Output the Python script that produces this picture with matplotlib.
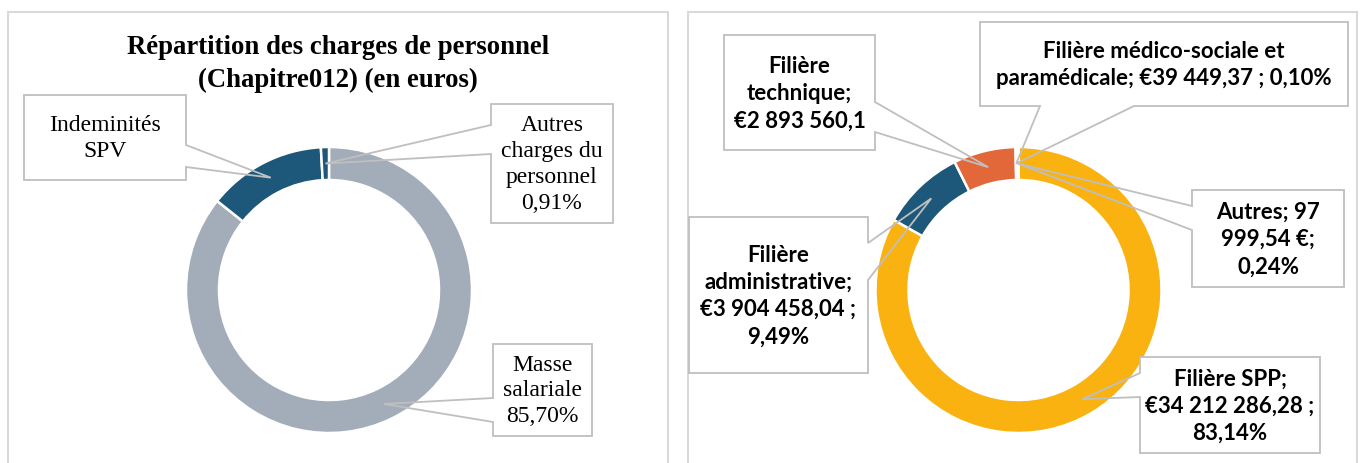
import numpy as np
import matplotlib.pyplot as plt
from matplotlib.patches import Rectangle, Polygon

# left chart data
left_labels = ["Masse\nsalariale\n85,70%", "Indeminités\nSPV", "Autres\ncharges du\npersonnel\n0,91%"]
left_values = [85.70, 13.39, 0.91]
left_colors = ["#A3ACB9", "#1D5779", "#1D5779"]

# right chart data (euros)
right_labels = [
    "Filière SPP;\n€34 212 286,28 ;\n83,14%",
    "Filière\nadministrative;\n€3 904 458,04 ;\n9,49%",
    "Filière\ntechnique;\n€2 893 560,1",
    "Filière médico-sociale et\nparamédicale; €39 449,37 ; 0,10%",
    "Autres; 97\n999,54 €;\n0,24%",
]
right_values = [34212286.28, 3904458.04, 2893560.10, 39449.37, 97999.54]
right_colors = ["#F9B20F", "#1D5779", "#E2683A", "#A5A5A5", "#7F7F7F"]
right_explode = [0, 0.02, 0.02, 0, 0]

W, H = 1360, 463
R, RING = 143, 33
EDGE = "#BFBFBF"


def Y(y):
    return H - y


def anchor(values, i, center):
    frac = np.cumsum(values) / np.sum(values)
    start = frac[i - 1] if i > 0 else 0.0
    mid = (start + frac[i]) / 2 * 2 * np.pi
    r = R - RING / 2
    return center[0] + r * np.sin(mid), center[1] - r * np.cos(mid)


def callout(ax, box, side, base, tip, text, **kw):
    x0, y0, x1, y1 = box
    if side == "left":
        pts = [(x0, y0), (x1, y0), (x1, y1), (x0, y1), (x0, base[1]), tip, (x0, base[0])]
    elif side == "right":
        pts = [(x0, y0), (x1, y0), (x1, base[0]), tip, (x1, base[1]), (x1, y1), (x0, y1)]
    else:
        pts = [(x0, y0), (x1, y0), (x1, y1), (base[1], y1), tip, (base[0], y1), (x0, y1)]
    ax.add_patch(Rectangle((x0, Y(y1)), x1 - x0, y1 - y0, facecolor="white",
                           edgecolor="none", zorder=3))
    ax.add_patch(Polygon([(px, Y(py)) for px, py in pts], closed=True, fill=False,
                         edgecolor=EDGE, lw=1.3, zorder=4))
    ax.text((x0 + x1) / 2, Y((y0 + y1) / 2 + 1), text, ha="center", va="center",
            zorder=5, **kw)


fig = plt.figure(figsize=(W / 100, H / 100), dpi=100)
ax = fig.add_axes([0, 0, 1, 1])

# panel frames
ax.add_patch(Rectangle((8, -5), 660, Y(12) + 5, fill=False, edgecolor="#D9D9D9", lw=1.5))
ax.add_patch(Rectangle((688, -5), 669, Y(12) + 5, fill=False, edgecolor="#D9D9D9", lw=1.5))

lc = (329, 290)
ax.pie(left_values, colors=left_colors, startangle=90, counterclock=False,
       radius=R, center=(lc[0], Y(lc[1])),
       wedgeprops=dict(width=RING, edgecolor="white", linewidth=1.8))

rc = (1018.5, 290)
ax.pie(right_values, colors=right_colors, startangle=90, counterclock=False,
       radius=R, center=(rc[0], Y(rc[1])), explode=right_explode,
       wedgeprops=dict(width=RING, edgecolor="white", linewidth=1.8))

ax.set_xlim(0, W)
ax.set_ylim(0, H)
ax.set_aspect("equal")
ax.axis("off")

ax.text(338, Y(64), "Répartition des charges de personnel\n(Chapitre012) (en euros)",
        ha="center", va="center", fontsize=19.3, fontweight="bold",
        family="Liberation Serif", linespacing=1.4)

serif = dict(fontsize=17, family="Liberation Serif", linespacing=1.3)
callout(ax, (24, 95, 186, 180), "right", (145, 167), anchor(left_values, 1, lc), left_labels[1], **serif)
callout(ax, (491, 104, 613, 223), "left", (125, 154), anchor(left_values, 2, lc), left_labels[2], **serif)
callout(ax, (493, 344, 592, 436), "left", (398, 422), anchor(left_values, 0, lc), left_labels[0], **serif)

sans = dict(fontsize=16, family="Lato", fontweight="bold", linespacing=1.37)
callout(ax, (1140, 357, 1320, 453), "left", (373, 397), anchor(right_values, 0, rc), right_labels[0], **sans)
callout(ax, (689, 217, 868, 373), "right", (243, 280), anchor(right_values, 1, rc), right_labels[1], **sans)
callout(ax, (724, 35, 875, 150), "right", (102, 132), anchor(right_values, 2, rc), right_labels[2], **sans)
callout(ax, (980, 22, 1348, 106), "bottom", (1040, 1134), anchor(right_values, 3, rc), right_labels[3], **sans)
callout(ax, (1192, 190, 1344, 287), "left", (206, 230), anchor(right_values, 4, rc), right_labels[4], **sans)

fig.savefig("out.png", dpi=100)
